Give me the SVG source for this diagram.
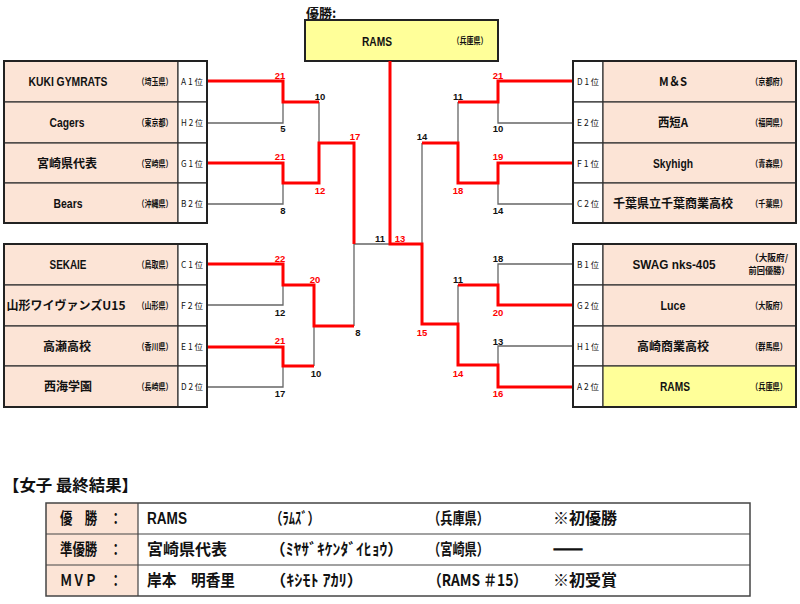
<svg xmlns="http://www.w3.org/2000/svg" width="800" height="604" viewBox="0 0 800 604">
<style>
text{font-family:"Liberation Sans","Noto Sans CJK JP",sans-serif;fill:#111}
.nm{font-size:13px;font-weight:bold;text-anchor:middle}
.jp{font-size:12px;font-weight:bold;text-anchor:middle;font-family:"Noto Sans CJK JP",sans-serif}
.pf{font-size:9px;font-weight:bold;text-anchor:middle;font-family:"Noto Sans CJK JP",sans-serif}
.rk{font-size:8.5px;text-anchor:middle;font-family:"Noto Sans CJK JP",sans-serif}
.sc{font-size:9.5px;font-weight:bold;text-anchor:middle}
.win{fill:#ff0000}
.cell{fill:#fce4d6;stroke:#333;stroke-width:1.2}
.yel{fill:#ffff99;stroke:#333;stroke-width:1.2}
.rank{fill:#fff;stroke:#333;stroke-width:1.2}
.frame{fill:none;stroke:#222;stroke-width:2}
.g{fill:none;stroke:#666;stroke-width:1.3}
.r{fill:none;stroke:#ff0000;stroke-width:3}
.tb{font-size:16px;font-weight:bold;font-family:"Noto Sans CJK JP",sans-serif}
.tl{font-size:16px;font-weight:bold;font-family:"Liberation Sans","Noto Sans CJK JP",sans-serif}
</style>
<rect width="800" height="604" fill="#fff"/>

<!-- champion -->
<g id="champion">
<text x="306" y="18" style="font-size:13px;font-weight:bold;font-family:'Noto Sans CJK JP',sans-serif">優勝:</text>
<rect x="305" y="20" width="193" height="41" fill="#ffff99" stroke="#222" stroke-width="2"/>
<text class="nm" x="377" y="46" textLength="30" lengthAdjust="spacingAndGlyphs">RAMS</text>
<text class="pf" x="470" y="44" textLength="35" lengthAdjust="spacingAndGlyphs">（兵庫県）</text>
</g>

<!-- connectors -->
<g id="connectors">
<path class="g" d="M207,123H283V102M207,204H283V183M319,102V143M354,244V326M354,244H390M207,305H283V285M207,387H283V366M314,326V366"/>
<path class="g" d="M573,123H498V102M573,204H498V183M458,102V143M422,143V244M573,264H498V285M573,346H498V365M458,285V324"/>
<path class="r" d="M207,81H283V102H319"/>
<path class="r" d="M207,163H283V183H319V143H354V244"/>
<path class="r" d="M207,264H283V285H314V326H354"/>
<path class="r" d="M207,347H283V366H314"/>
<path class="r" d="M573,81H498V102H458"/>
<path class="r" d="M573,163H498V183H458V143H422"/>
<path class="r" d="M573,305H498V285H458"/>
<path class="r" d="M573,387H498V365H458V324H422V244H390V61"/>
</g>

<!-- scores -->
<g id="scores">
<text class="sc win" x="280" y="79">21</text>
<text class="sc" x="320" y="100">10</text>
<text class="sc" x="283" y="132">5</text>
<text class="sc win" x="280" y="160">21</text>
<text class="sc win" x="320" y="194">12</text>
<text class="sc" x="283" y="214">8</text>
<text class="sc win" x="355" y="140">17</text>
<text class="sc win" x="280" y="262">22</text>
<text class="sc win" x="315" y="283">20</text>
<text class="sc" x="280" y="316">12</text>
<text class="sc" x="358" y="336">8</text>
<text class="sc win" x="280" y="344">21</text>
<text class="sc" x="316" y="377">10</text>
<text class="sc" x="280" y="397">17</text>
<text class="sc" x="380" y="242">11</text>
<text class="sc win" x="400" y="242">13</text>
<text class="sc" x="422" y="140">14</text>
<text class="sc" x="458" y="100">11</text>
<text class="sc win" x="458" y="194">18</text>
<text class="sc win" x="498" y="79">21</text>
<text class="sc" x="498" y="132">10</text>
<text class="sc win" x="498" y="160">19</text>
<text class="sc" x="498" y="214">14</text>
<text class="sc" x="498" y="262">18</text>
<text class="sc" x="458" y="283">11</text>
<text class="sc win" x="498" y="316">20</text>
<text class="sc win" x="422" y="336">15</text>
<text class="sc" x="498" y="345">13</text>
<text class="sc win" x="458" y="377">14</text>
<text class="sc win" x="498" y="397">16</text>
</g>

<!-- left teams -->
<g id="team-kuki">
<rect class="cell" x="4" y="61" width="174" height="41"/><rect class="rank" x="178" y="61" width="29" height="41"/>
<text class="nm" x="68" y="86" textLength="79" lengthAdjust="spacingAndGlyphs">KUKI GYMRATS</text>
<text class="pf" x="155" y="84.5" textLength="35" lengthAdjust="spacingAndGlyphs">（埼玉県）</text>
<text class="rk" x="192" y="84.5" textLength="22" lengthAdjust="spacingAndGlyphs">A 1 位</text>
</g>
<g id="team-cagers">
<rect class="cell" x="4" y="102" width="174" height="41"/><rect class="rank" x="178" y="102" width="29" height="41"/>
<text class="nm" x="67" y="127" textLength="35" lengthAdjust="spacingAndGlyphs">Cagers</text>
<text class="pf" x="155" y="125.5" textLength="35" lengthAdjust="spacingAndGlyphs">（東京都）</text>
<text class="rk" x="192" y="125.5" textLength="22" lengthAdjust="spacingAndGlyphs">H 2 位</text>
</g>
<g id="team-miyazaki">
<rect class="cell" x="4" y="143" width="174" height="40"/><rect class="rank" x="178" y="143" width="29" height="40"/>
<text class="jp" x="67" y="168">宮崎県代表</text>
<text class="pf" x="155" y="166.5" textLength="35" lengthAdjust="spacingAndGlyphs">（宮崎県）</text>
<text class="rk" x="192" y="166.5" textLength="22" lengthAdjust="spacingAndGlyphs">G 1 位</text>
</g>
<g id="team-bears">
<rect class="cell" x="4" y="183" width="174" height="40"/><rect class="rank" x="178" y="183" width="29" height="40"/>
<text class="nm" x="68" y="208" textLength="29" lengthAdjust="spacingAndGlyphs">Bears</text>
<text class="pf" x="155" y="206.5" textLength="35" lengthAdjust="spacingAndGlyphs">（沖縄県）</text>
<text class="rk" x="192" y="206.5" textLength="22" lengthAdjust="spacingAndGlyphs">B 2 位</text>
</g>
<g id="team-sekaie">
<rect class="cell" x="4" y="244" width="174" height="41"/><rect class="rank" x="178" y="244" width="29" height="41"/>
<text class="nm" x="68" y="269" textLength="37" lengthAdjust="spacingAndGlyphs">SEKAIE</text>
<text class="pf" x="155" y="267.5" textLength="35" lengthAdjust="spacingAndGlyphs">（鳥取県）</text>
<text class="rk" x="192" y="267.5" textLength="22" lengthAdjust="spacingAndGlyphs">C 1 位</text>
</g>
<g id="team-yamagata">
<rect class="cell" x="4" y="285" width="174" height="41"/><rect class="rank" x="178" y="285" width="29" height="41"/>
<text class="jp" x="66" y="310" textLength="119" lengthAdjust="spacingAndGlyphs">山形ワイヴァンズU15</text>
<text class="pf" x="155" y="308.5" textLength="35" lengthAdjust="spacingAndGlyphs">（山形県）</text>
<text class="rk" x="192" y="308.5" textLength="22" lengthAdjust="spacingAndGlyphs">F 2 位</text>
</g>
<g id="team-takase">
<rect class="cell" x="4" y="326" width="174" height="40"/><rect class="rank" x="178" y="326" width="29" height="40"/>
<text class="jp" x="67" y="351">高瀬高校</text>
<text class="pf" x="155" y="349.5" textLength="35" lengthAdjust="spacingAndGlyphs">（香川県）</text>
<text class="rk" x="192" y="349.5" textLength="22" lengthAdjust="spacingAndGlyphs">E 1 位</text>
</g>
<g id="team-saikai">
<rect class="cell" x="4" y="366" width="174" height="41"/><rect class="rank" x="178" y="366" width="29" height="41"/>
<text class="jp" x="68" y="391">西海学園</text>
<text class="pf" x="155" y="389.5" textLength="35" lengthAdjust="spacingAndGlyphs">（長崎県）</text>
<text class="rk" x="192" y="389.5" textLength="22" lengthAdjust="spacingAndGlyphs">D 2 位</text>
</g>

<!-- right teams -->
<g id="team-ms">
<rect class="rank" x="573" y="61" width="30" height="41"/><rect class="cell" x="603" y="61" width="193" height="41"/>
<text class="jp" x="673" y="86" textLength="28" lengthAdjust="spacingAndGlyphs">M＆S</text>
<text class="pf" x="769" y="84.5" textLength="36" lengthAdjust="spacingAndGlyphs">（京都府）</text>
<text class="rk" x="588" y="84.5" textLength="22" lengthAdjust="spacingAndGlyphs">D 1 位</text>
</g>
<g id="team-saitan">
<rect class="rank" x="573" y="102" width="30" height="41"/><rect class="cell" x="603" y="102" width="193" height="41"/>
<text class="jp" x="673" y="127" textLength="30" lengthAdjust="spacingAndGlyphs">西短A</text>
<text class="pf" x="769" y="125.5" textLength="36" lengthAdjust="spacingAndGlyphs">（福岡県）</text>
<text class="rk" x="588" y="125.5" textLength="22" lengthAdjust="spacingAndGlyphs">E 2 位</text>
</g>
<g id="team-skyhigh">
<rect class="rank" x="573" y="143" width="30" height="40"/><rect class="cell" x="603" y="143" width="193" height="40"/>
<text class="nm" x="673" y="168" textLength="40" lengthAdjust="spacingAndGlyphs">Skyhigh</text>
<text class="pf" x="769" y="166.5" textLength="36" lengthAdjust="spacingAndGlyphs">（青森県）</text>
<text class="rk" x="588" y="166.5" textLength="22" lengthAdjust="spacingAndGlyphs">F 1 位</text>
</g>
<g id="team-chiba">
<rect class="rank" x="573" y="183" width="30" height="40"/><rect class="cell" x="603" y="183" width="193" height="40"/>
<text class="jp" x="673" y="208">千葉県立千葉商業高校</text>
<text class="pf" x="769" y="206.5" textLength="36" lengthAdjust="spacingAndGlyphs">（千葉県）</text>
<text class="rk" x="588" y="206.5" textLength="22" lengthAdjust="spacingAndGlyphs">C 2 位</text>
</g>
<g id="team-swag">
<rect class="rank" x="573" y="244" width="30" height="41"/><rect class="cell" x="603" y="244" width="193" height="41"/>
<text class="nm" x="674" y="269" textLength="83" lengthAdjust="spacingAndGlyphs">SWAG nks-405</text>
<text class="pf" x="769" y="261" textLength="38" lengthAdjust="spacingAndGlyphs">（大阪府/</text>
<text class="pf" x="769" y="274" textLength="41" lengthAdjust="spacingAndGlyphs">前回優勝）</text>
<text class="rk" x="588" y="267.5" textLength="22" lengthAdjust="spacingAndGlyphs">B 1 位</text>
</g>
<g id="team-luce">
<rect class="rank" x="573" y="285" width="30" height="41"/><rect class="cell" x="603" y="285" width="193" height="41"/>
<text class="nm" x="673" y="310" textLength="25" lengthAdjust="spacingAndGlyphs">Luce</text>
<text class="pf" x="769" y="308.5" textLength="36" lengthAdjust="spacingAndGlyphs">（大阪府）</text>
<text class="rk" x="588" y="308.5" textLength="22" lengthAdjust="spacingAndGlyphs">G 2 位</text>
</g>
<g id="team-takasaki">
<rect class="rank" x="573" y="326" width="30" height="40"/><rect class="cell" x="603" y="326" width="193" height="40"/>
<text class="jp" x="673" y="351">高崎商業高校</text>
<text class="pf" x="769" y="349.5" textLength="36" lengthAdjust="spacingAndGlyphs">（群馬県）</text>
<text class="rk" x="588" y="349.5" textLength="22" lengthAdjust="spacingAndGlyphs">H 1 位</text>
</g>
<g id="team-rams">
<rect class="rank" x="573" y="366" width="30" height="41"/><rect class="yel" x="603" y="366" width="193" height="41"/>
<text class="nm" x="675" y="391" textLength="30" lengthAdjust="spacingAndGlyphs">RAMS</text>
<text class="pf" x="769" y="389.5" textLength="36" lengthAdjust="spacingAndGlyphs">（兵庫県）</text>
<text class="rk" x="588" y="389.5" textLength="22" lengthAdjust="spacingAndGlyphs">A 2 位</text>
</g>

<g id="frames">
<rect class="frame" x="4" y="61" width="203" height="162"/>
<rect class="frame" x="4" y="244" width="203" height="163"/>
<rect class="frame" x="573" y="61" width="223" height="162"/>
<rect class="frame" x="573" y="244" width="223" height="163"/>
</g>

<!-- results table -->
<g id="results">
<text class="tb" x="3" y="491" textLength="135" lengthAdjust="spacingAndGlyphs">【女子 最終結果】</text>
<rect x="46" y="503" width="92" height="93" fill="#fce4d6"/>
<rect x="46" y="503" width="704" height="93" fill="none" stroke="#444" stroke-width="1.5"/>
<path d="M46,534H750M46,565H750M138,503V596" stroke="#444" stroke-width="1.2" fill="none"/>
<text class="tb" x="60" y="524" textLength="62" lengthAdjust="spacingAndGlyphs">優　勝　：</text>
<text class="tb" x="60" y="555" textLength="62" lengthAdjust="spacingAndGlyphs">準優勝　：</text>
<text class="tb" x="60" y="586" textLength="62" lengthAdjust="spacingAndGlyphs">ＭＶＰ　：</text>
<text class="tl" x="147" y="524" textLength="40" lengthAdjust="spacingAndGlyphs">RAMS</text>
<text class="tb" x="147" y="555" textLength="80" lengthAdjust="spacingAndGlyphs">宮崎県代表</text>
<text class="tb" x="147" y="586" textLength="88" lengthAdjust="spacingAndGlyphs">岸本　明香里</text>
<text class="tb" x="270" y="524" textLength="50" lengthAdjust="spacingAndGlyphs">（ﾗﾑｽﾞ）</text>
<text class="tb" x="270" y="555" textLength="133" lengthAdjust="spacingAndGlyphs">（ﾐﾔｻﾞｷｹﾝﾀﾞｲﾋｮｳ）</text>
<text class="tb" x="270" y="586" textLength="93" lengthAdjust="spacingAndGlyphs">（ｷｼﾓﾄ ｱｶﾘ）</text>
<text class="tb" x="428" y="524" textLength="61" lengthAdjust="spacingAndGlyphs">（兵庫県）</text>
<text class="tb" x="428" y="555" textLength="61" lengthAdjust="spacingAndGlyphs">（宮崎県）</text>
<text class="tb" x="428" y="586" textLength="99" lengthAdjust="spacingAndGlyphs">（RAMS ＃15）</text>
<text class="tb" x="553" y="524" textLength="64" lengthAdjust="spacingAndGlyphs">※初優勝</text>
<text class="tb" x="553" y="555" textLength="30" lengthAdjust="spacingAndGlyphs" stroke="#111" stroke-width="1.6">――</text>
<text class="tb" x="553" y="586" textLength="64" lengthAdjust="spacingAndGlyphs">※初受賞</text>
</g>
</svg>
